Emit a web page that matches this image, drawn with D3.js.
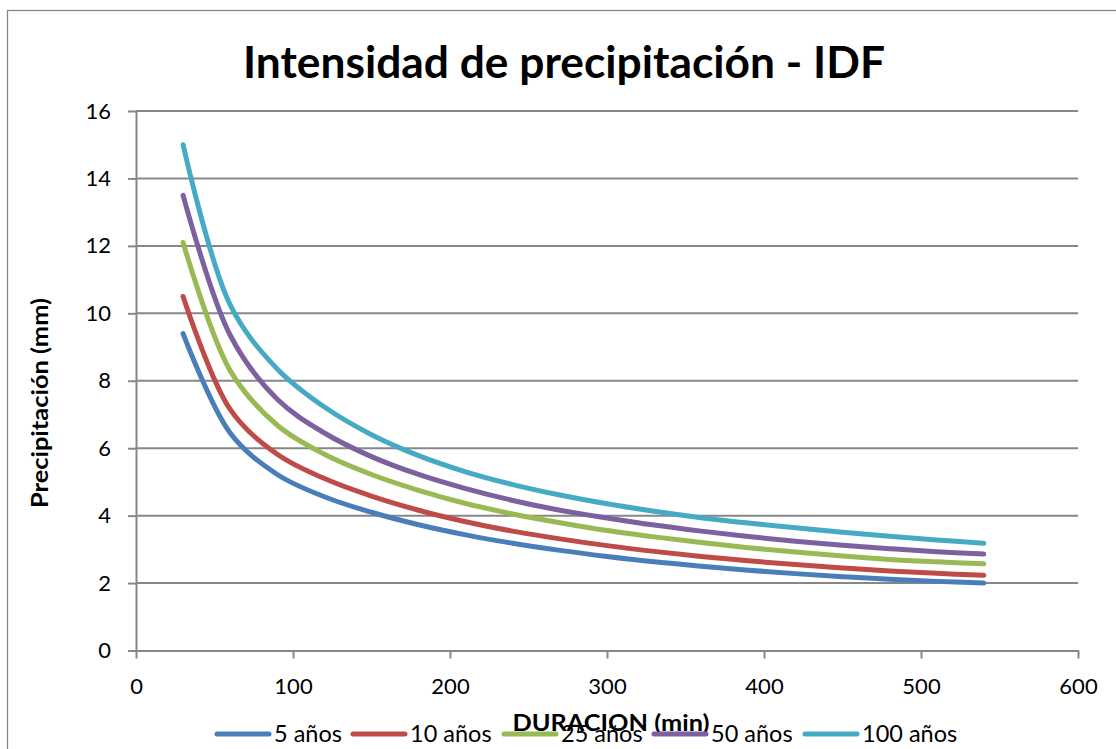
<!DOCTYPE html>
<html>
<head>
<meta charset="utf-8">
<script src="https://cdn.jsdelivr.net/npm/d3@7"></script>
<style>
  html, body { margin: 0; padding: 0; background: #fff; }
  svg { display: block; }
  text { font-family: Lato, "Noto Sans", sans-serif; fill: #000; }
</style>
</head>
<body>
<svg id="chart" width="1116" height="749"></svg>
<script>
// Duration (min) on the x axis
const durations = [30, 60, 90, 120, 150, 180, 210, 240, 270, 300, 330, 360, 390, 420, 450, 480, 510, 540];

// Precipitation intensity per return period
const serie5   = [9.4, 6.45, 5.22, 4.56, 4.10, 3.73, 3.43, 3.18, 2.97, 2.79, 2.63, 2.50, 2.38, 2.28, 2.19, 2.11, 2.05, 2.00];
const serie10  = [10.5, 7.15, 5.82, 5.10, 4.58, 4.16, 3.82, 3.54, 3.31, 3.11, 2.94, 2.79, 2.66, 2.55, 2.45, 2.36, 2.29, 2.23];
const serie25  = [12.1, 8.30, 6.68, 5.82, 5.22, 4.75, 4.36, 4.05, 3.79, 3.56, 3.37, 3.20, 3.05, 2.92, 2.80, 2.70, 2.63, 2.57];
const serie50  = [13.5, 9.35, 7.45, 6.45, 5.75, 5.22, 4.80, 4.45, 4.16, 3.93, 3.72, 3.54, 3.38, 3.24, 3.12, 3.02, 2.93, 2.86];
const serie100 = [15.0, 10.25, 8.35, 7.22, 6.40, 5.78, 5.30, 4.92, 4.61, 4.35, 4.13, 3.94, 3.78, 3.64, 3.51, 3.39, 3.28, 3.18];

const seriesNames = ["5 años", "10 años", "25 años", "50 años", "100 años"];
const seriesColors = ["#4A7EBB", "#BE4B48", "#98B954", "#7D60A0", "#46AAC5"];
const seriesValues = [serie5, serie10, serie25, serie50, serie100];

const xTicks = [0, 100, 200, 300, 400, 500, 600];
const yTicks = [0, 2, 4, 6, 8, 10, 12, 14, 16];

const svg = d3.select("#chart");
const gridColor = "#878787";

const x = d3.scaleLinear().domain([0, 600]).range([136, 1078]);
const y = d3.scaleLinear().domain([0, 16]).range([650.5, 111]);

// outer chart frame
svg.append("rect")
  .attr("x", 7.5).attr("y", 10.5)
  .attr("width", 1200).attr("height", 900)
  .attr("fill", "none").attr("stroke", gridColor).attr("stroke-width", 1.3);

// title
svg.append("text")
  .attr("x", 564).attr("y", 78)
  .attr("text-anchor", "middle")
  .attr("font-size", 43).attr("font-weight", 700)
  .attr("textLength", 642).attr("lengthAdjust", "spacingAndGlyphs")
  .text("Intensidad de precipitación - IDF");

// horizontal gridlines
svg.append("g")
  .selectAll("line")
  .data(yTicks.filter(d => d > 0))
  .join("line")
  .attr("x1", x(0)).attr("x2", x(600))
  .attr("y1", d => y(d)).attr("y2", d => y(d))
  .attr("stroke", gridColor).attr("stroke-width", 2);

// y axis
const yAxis = svg.append("g")
  .attr("transform", `translate(${x(0)},0)`)
  .call(d3.axisLeft(y).tickValues(yTicks).tickSize(8).tickPadding(17).tickSizeOuter(0));
yAxis.select(".domain").attr("stroke", gridColor).attr("stroke-width", 2);
yAxis.selectAll(".tick line").attr("stroke", gridColor).attr("stroke-width", 2);
yAxis.selectAll(".tick text")
  .attr("font-size", 22).attr("font-family", "Lato, sans-serif").attr("fill", "#000");

// x axis
const xAxis = svg.append("g")
  .attr("transform", `translate(0,${y(0)})`)
  .call(d3.axisBottom(x).tickValues(xTicks).tickSize(8).tickPadding(20).tickSizeOuter(0));
xAxis.select(".domain").attr("stroke", gridColor).attr("stroke-width", 2);
xAxis.selectAll(".tick line").attr("stroke", gridColor).attr("stroke-width", 2);
xAxis.selectAll(".tick text")
  .attr("font-size", 22).attr("font-family", "Lato, sans-serif").attr("fill", "#000");

// axis titles
svg.append("text")
  .attr("transform", "translate(48,403) rotate(-90)")
  .attr("text-anchor", "middle")
  .attr("font-size", 22).attr("font-weight", 700)
  .attr("textLength", 210).attr("lengthAdjust", "spacingAndGlyphs")
  .text("Precipitación (mm)");

svg.append("text")
  .attr("x", 611).attr("y", 731)
  .attr("text-anchor", "middle")
  .attr("font-size", 23).attr("font-weight", 700)
  .attr("textLength", 197).attr("lengthAdjust", "spacingAndGlyphs")
  .text("DURACION (min)");

// series lines
const line = d3.line()
  .x((d, i) => x(durations[i]))
  .y(d => y(d))
  .curve(d3.curveCatmullRom.alpha(0.5));

svg.append("g")
  .selectAll("path")
  .data(seriesValues)
  .join("path")
  .attr("d", d => line(d))
  .attr("fill", "none")
  .attr("stroke", (d, i) => seriesColors[i])
  .attr("stroke-width", 5)
  .attr("stroke-linecap", "round")
  .attr("stroke-linejoin", "round");

// legend
const legendX = [217, 353, 504, 654, 805];
const legend = svg.append("g");
seriesNames.forEach((name, i) => {
  legend.append("line")
    .attr("x1", legendX[i]).attr("x2", legendX[i] + 52)
    .attr("y1", 734).attr("y2", 734)
    .attr("stroke", seriesColors[i]).attr("stroke-width", 5)
    .attr("stroke-linecap", "round");
  legend.append("text")
    .attr("x", legendX[i] + 57).attr("y", 742)
    .attr("font-size", 23.5)
    .text(name);
});
</script>
</body>
</html>
